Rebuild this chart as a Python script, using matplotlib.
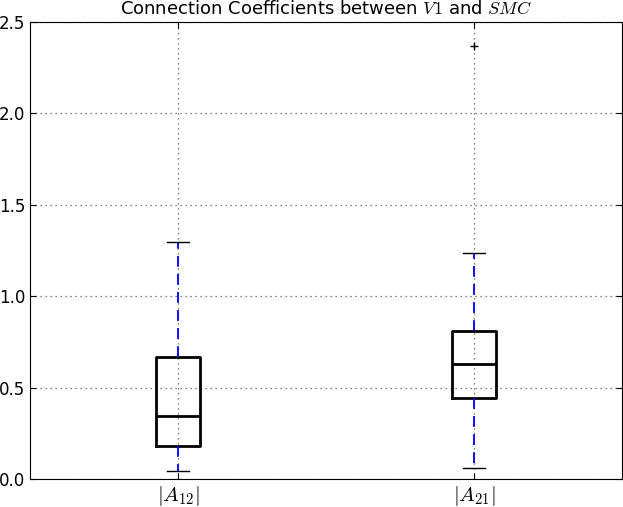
import matplotlib
matplotlib.use('Agg')
import matplotlib.pyplot as plt

plt.rcParams['mathtext.fontset'] = 'cm'
plt.rcParams['font.family'] = 'DejaVu Sans'

labels = [r'$|A_{12}|$', r'$|A_{21}|$']
whislo = [0.045, 0.058]
q1 = [0.182, 0.445]
med = [0.343, 0.630]
q3 = [0.667, 0.812]
whishi = [1.295, 1.238]
fliers = [[], [2.37]]

stats = []
for i in range(len(labels)):
    stats.append({'label': labels[i], 'whislo': whislo[i], 'q1': q1[i],
                  'med': med[i], 'q3': q3[i], 'whishi': whishi[i],
                  'fliers': fliers[i]})

fig = plt.figure(figsize=(6.23, 5.07), dpi=100)
ax = fig.add_axes([30 / 623, 28 / 507, 592 / 623, 457 / 507])

ax.bxp(stats, widths=0.15,
       boxprops=dict(color='black', linewidth=2),
       medianprops=dict(color='black', linewidth=2),
       whiskerprops=dict(color='blue', linestyle=(0, (6, 4)), linewidth=1.3),
       capprops=dict(color='black', linewidth=1),
       flierprops=dict(marker='+', markeredgecolor='black', markersize=6,
                       linestyle='none'))

ax.set_xlim(0.5, 2.5)
ax.set_ylim(0, 2.5)
ax.set_yticks([0.0, 0.5, 1.0, 1.5, 2.0, 2.5])
ax.grid(True, color='0.35', linestyle=(0, (1, 3)), linewidth=0.9)
ax.tick_params(direction='in', top=True, right=True, length=4)
ax.tick_params(axis='y', labelsize=12)
ax.tick_params(axis='x', labelsize=15)
ax.set_title(r'Connection Coefficients between $V1$ and $SMC$', fontsize=13)

fig.savefig('out.png', dpi=100)
